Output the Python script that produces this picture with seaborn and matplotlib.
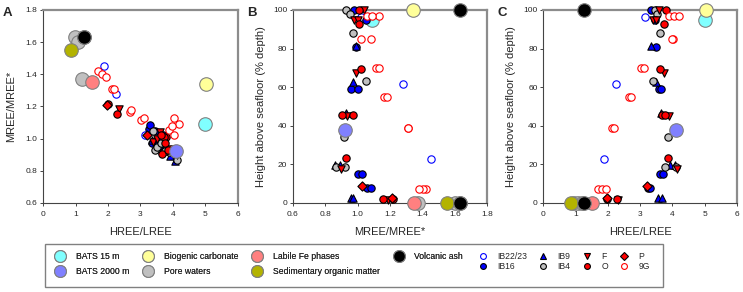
import numpy as np
import pandas as pd
import seaborn as sns
import matplotlib.pyplot as plt
from matplotlib.lines import Line2D
from matplotlib.patches import Rectangle

# ---- data: (HREE/LREE, MREE/MREE*, height above seafloor %) ----
ib2223_hl = [3.15, 2.26, 1.89]
ib2223_mm = [1.02, 1.28, 1.45]
ib2223_h = [96.2, 61.4, 23.0]

ib16_hl = [3.35, 3.45, 3.50, 3.60, 3.65, 3.61, 3.71, 3.25, 3.30]
ib16_mm = [0.975, 1.05, 0.99, 0.96, 1.00, 1.00, 1.025, 1.06, 1.085]
ib16_h = [100, 95, 80.6, 58.9, 58.9, 15, 15, 7.6, 7.6]

ib9_hl = [3.35, 3.50, 3.66, 4.07, 3.92, 3.56, 3.69]
ib9_mm = [0.99, 0.97, 0.93, 0.86, 0.89, 0.96, 0.97]
ib9_h = [81.5, 62.5, 46.5, 19.7, 19.7, 2.4, 2.4]

ib4_hl = [3.45, 3.51, 3.63, 3.40, 3.87, 4.12, 3.76]
ib4_mm = [0.93, 0.95, 0.97, 1.05, 0.915, 0.865, 0.925]
ib4_h = [100, 98, 87.9, 63, 34, 18.6, 18.6]

f_hl = [3.60, 3.40, 3.50, 3.74, 3.90, 4.14, 2.33]
f_mm = [1.04, 0.98, 1.00, 0.99, 0.935, 0.895, 1.185]
f_h = [100, 94.8, 94.8, 67.5, 45, 17.6, 1.5]

o_hl = [3.80, 3.73, 3.63, 3.68, 3.76, 3.85, 2.27, 1.99]
o_mm = [1.01, 1.01, 1.02, 0.905, 0.97, 0.93, 1.155, 1.215]
o_h = [100, 92.7, 69.5, 45.6, 45.6, 23.5, 2, 2]

p_hl = [3.20, 1.98]
p_mm = [1.025, 1.21]
p_h = [8.8, 2.5]

g9_hl = [3.89, 4.05, 4.20, 4.02, 3.98, 3.02, 3.12, 2.67, 2.71, 2.12, 2.19, 1.70, 1.82, 1.94]
g9_mm = [1.055, 1.13, 1.09, 1.02, 1.08, 1.115, 1.13, 1.165, 1.18, 1.31, 1.31, 1.42, 1.40, 1.38]
g9_h = [97, 97, 97, 85, 85, 70, 70, 54.8, 54.8, 39, 39, 7, 7, 7]

# end-members
bats15 = (5.00, 1.09, 95)
bats2000 = (4.10, 0.92, 38)
biogenic = (5.03, 1.34, 100)
pore_hl = [0.97, 1.07, 1.20]
pore_mm = [1.63, 1.60, 1.37]
pore_h = [0, 0, 0]
labile = (1.52, 1.35, 0)
sedom = (0.85, 1.55, 0)
volc_hl = [1.27, 1.27]
volc_mm = [1.63, 1.63]
volc_h = [100, 0]

rows = []
def add(name, hl, mm, h):
    for a, b, c in zip(hl, mm, h):
        rows.append(dict(group=name, hl=a, mm=b, h=c))

add('IB22/23', ib2223_hl, ib2223_mm, ib2223_h)
add('IB16', ib16_hl, ib16_mm, ib16_h)
add('IB9', ib9_hl, ib9_mm, ib9_h)
add('IB4', ib4_hl, ib4_mm, ib4_h)
add('F', f_hl, f_mm, f_h)
add('O', o_hl, o_mm, o_h)
add('P', p_hl, p_mm, p_h)
add('9G', g9_hl, g9_mm, g9_h)
add('BATS 15 m', [bats15[0]], [bats15[1]], [bats15[2]])
add('BATS 2000 m', [bats2000[0]], [bats2000[1]], [bats2000[2]])
add('Biogenic carbonate', [biogenic[0]], [biogenic[1]], [biogenic[2]])
add('Pore waters', pore_hl, pore_mm, pore_h)
add('Labile Fe phases', [labile[0]], [labile[1]], [labile[2]])
add('Sedimentary organic matter', [sedom[0]], [sedom[1]], [sedom[2]])
add('Volcanic ash', volc_hl, volc_mm, volc_h)
df = pd.DataFrame(rows)

BLUE = '#0000ff'
RED = '#ff0000'
big_styles = {
    'BATS 15 m': '#80ffff',
    'BATS 2000 m': '#8080ff',
    'Biogenic carbonate': '#ffff99',
    'Pore waters': '#c0c0c0',
    'Labile Fe phases': '#ff8080',
    'Sedimentary organic matter': '#b3b300',
    'Volcanic ash': '#000000',
}
# name: (marker, face, edge)
small_styles = {
    'IB22/23': ('o', 'white', BLUE),
    'IB16': ('o', BLUE, 'black'),
    'IB9': ('^', BLUE, 'black'),
    'IB4': ('o', '#c0c0c0', 'black'),
    'F': ('v', RED, 'black'),
    'O': ('o', RED, 'black'),
    'P': ('D', RED, 'black'),
    '9G': ('o', 'white', RED),
}

sns.set_style('ticks')
plt.rcParams['font.family'] = ['Liberation Sans', 'DejaVu Sans']

fig = plt.figure(figsize=(7.43, 2.92), dpi=100)
axA = fig.add_axes([0.058, 0.305, 0.262, 0.661])
axB = fig.add_axes([0.394, 0.305, 0.262, 0.661])
axC = fig.add_axes([0.731, 0.305, 0.261, 0.661])

panels = [(axA, 'hl', 'mm'), (axB, 'mm', 'h'), (axC, 'hl', 'h')]
for ax, xc, yc in panels:
    for name, col in big_styles.items():
        sub = df[df['group'] == name]
        # the deep BATS sample sits on top of the particle cluster
        z = 5 if name == 'BATS 2000 m' else 3
        sns.scatterplot(data=sub, x=xc, y=yc, ax=ax, s=95, color=col,
                        edgecolor='#808080', linewidth=0.8, clip_on=False,
                        zorder=z, legend=False)
    for name, (mk, fc, ec) in small_styles.items():
        sub = df[df['group'] == name]
        sz = 22 if mk == 'D' else 28
        sns.scatterplot(data=sub, x=xc, y=yc, ax=ax, s=sz, marker=mk,
                        color=fc, edgecolor=ec, linewidth=0.8, clip_on=False,
                        zorder=4, legend=False)

def style_axis(ax):
    for side in ['left', 'bottom']:
        ax.spines[side].set_color('#444444')
        ax.spines[side].set_linewidth(0.8)
    for side in ['top', 'right']:
        ax.spines[side].set_color('#8c8c8c')
        ax.spines[side].set_linewidth(1.6)
    ax.tick_params(axis='both', labelsize=6, length=2.5, width=0.7, color='#444444')
    ax.tick_params(axis='x', pad=3.5)
    ax.tick_params(axis='y', pad=1.5)

axA.set_xlim(0, 6)
axA.set_ylim(0.6, 1.8)
axA.set_xticks(range(0, 7))
axA.set_yticks(np.arange(0.6, 1.81, 0.2))
axA.set_yticklabels([f'{v:.1f}' for v in np.arange(0.6, 1.81, 0.2)])
axA.set_xlabel('HREE/LREE', fontsize=8, labelpad=6)
axA.set_ylabel('MREE/MREE*', fontsize=8, labelpad=7)

axB.set_xlim(0.6, 1.8)
axB.set_ylim(0, 100)
axB.set_xticks(np.arange(0.6, 1.81, 0.2))
axB.set_xticklabels([f'{v:.1f}' for v in np.arange(0.6, 1.81, 0.2)])
axB.set_yticks(range(0, 101, 20))
axB.set_xlabel('MREE/MREE*', fontsize=8, labelpad=6)
axB.set_ylabel('Height above seafloor (% depth)', fontsize=8, labelpad=5)

axC.set_xlim(0, 6)
axC.set_ylim(0, 100)
axC.set_xticks(range(0, 7))
axC.set_yticks(range(0, 101, 20))
axC.set_xlabel('HREE/LREE', fontsize=8, labelpad=6)
axC.set_ylabel('Height above seafloor (% depth)', fontsize=8, labelpad=5)

for ax in [axA, axB, axC]:
    style_axis(ax)

fig.text(0.004, 0.955, 'A', fontsize=9.5, fontweight='bold', va='center')
fig.text(0.333, 0.955, 'B', fontsize=9.5, fontweight='bold', va='center')
fig.text(0.669, 0.955, 'C', fontsize=9.5, fontweight='bold', va='center')

# legend
big_handles = [Line2D([], [], ls='none', marker='o', markersize=8.5, markerfacecolor=c,
                      markeredgecolor='#808080', markeredgewidth=0.8)
               for c in big_styles.values()]
leg1 = fig.legend(big_handles, list(big_styles.keys()), ncol=4, loc='upper left',
                  bbox_to_anchor=(0.072, 0.137), frameon=False, fontsize=6.2,
                  handlelength=1.6, handletextpad=1.0, columnspacing=1.4,
                  labelspacing=0.65, borderpad=0, borderaxespad=0)
small_handles = [Line2D([], [], ls='none', marker=mk, markersize=4.2 if mk != 'D' else 3.6,
                        markerfacecolor=fc, markeredgecolor=ec, markeredgewidth=0.8)
                 for mk, fc, ec in small_styles.values()]
leg2 = fig.legend(small_handles, list(small_styles.keys()), ncol=4, loc='upper left',
                  bbox_to_anchor=(0.643, 0.137), frameon=False, fontsize=6.2,
                  handlelength=1.2, handletextpad=1.05, columnspacing=1.3,
                  labelspacing=0.1, borderpad=0, borderaxespad=0)
fig.add_artist(leg1)

fig.patches.append(Rectangle((0.0606, 0.017), 0.832, 0.147, transform=fig.transFigure,
                             fill=False, edgecolor='#808080', linewidth=1.0))

fig.savefig('out.png', dpi=100)
